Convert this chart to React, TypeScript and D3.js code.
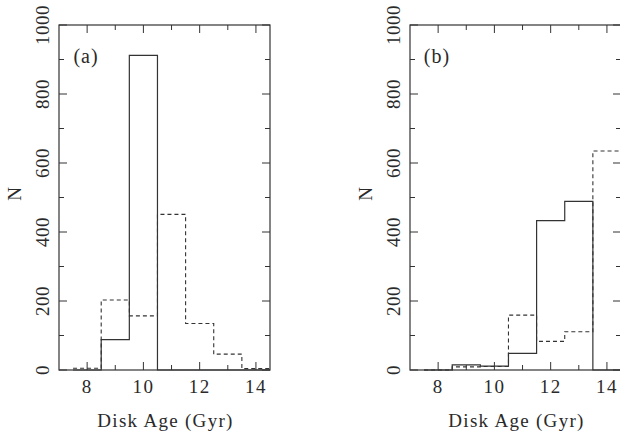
import React from 'react';
import * as d3 from 'd3';

// histogram bins (Gyr), one value per bin centre
const binCenters = [8, 9, 10, 11, 12, 13, 14];
const aSolid = [0, 88, 912, 0, 0, 0, 0];
const aDashed = [5, 203, 157, 451, 135, 46, 4];
const bSolid = [0, 15, 11, 48, 433, 489, 0];
const bDashed = [0, 9, 10, 159, 83, 111, 635];
const xTicks = [8, 10, 12, 14];
const xMinor = [9, 11, 13];
const yTicks = [0, 200, 400, 600, 800, 1000];
const yMinor = [100, 300, 500, 700, 900];

const W = 620;
const H = 436;
const ink = '#333';
const txt = '#2a2a2a';
const font = '"Liberation Serif", "DejaVu Serif", serif';

type PanelProps = {
  left: number;
  label: string;
  solid: number[];
  dashed: number[];
};

const Panel = ({ left, label, solid, dashed }: PanelProps) => {
  const x = d3.scaleLinear().domain([7, 14.5]).range([left, left + 211]);
  const y = d3.scaleLinear().domain([0, 1000]).range([370, 25]);
  const [x0, x1] = x.range();
  const [yb, yt] = y.range();

  const step = d3
    .line<[number, number]>()
    .x(d => x(d[0]))
    .y(d => y(d[1]))
    .curve(d3.curveStepAfter);

  const toPts = (vals: number[]): [number, number][] => {
    const pts: [number, number][] = binCenters.map((c, i) => [c - 0.5, vals[i]]);
    pts.push([binCenters[binCenters.length - 1] + 0.5, vals[vals.length - 1]]);
    return pts;
  };

  return (
    <g>
      <path d={step(toPts(dashed)) ?? ''} fill="none" stroke={ink} strokeWidth={1.1} strokeDasharray="4,3" />
      <path d={step(toPts(solid)) ?? ''} fill="none" stroke={ink} strokeWidth={1.2} />
      <rect x={x0} y={yt} width={x1 - x0} height={yb - yt} fill="none" stroke={ink} strokeWidth={1.2} />
      {xTicks.map(t => (
        <g key={'x' + t}>
          <line x1={x(t)} x2={x(t)} y1={yb} y2={yb - 8} stroke={ink} />
          <line x1={x(t)} x2={x(t)} y1={yt} y2={yt + 8} stroke={ink} />
          <text x={x(t)} y={393} textAnchor="middle" fontSize={19} letterSpacing={1.5} fill={txt} fontFamily={font}>
            {t}
          </text>
        </g>
      ))}
      {xMinor.map(t => (
        <g key={'xm' + t}>
          <line x1={x(t)} x2={x(t)} y1={yb} y2={yb - 5} stroke={ink} />
          <line x1={x(t)} x2={x(t)} y1={yt} y2={yt + 5} stroke={ink} />
        </g>
      ))}
      {yTicks.map(t => (
        <g key={'y' + t}>
          <line x1={x0} x2={x0 + 8} y1={y(t)} y2={y(t)} stroke={ink} />
          <line x1={x1} x2={x1 - 8} y1={y(t)} y2={y(t)} stroke={ink} />
          <text
            transform={`translate(${x0 - 10},${y(t)}) rotate(-90)`}
            textAnchor="middle"
            fontSize={19}
            letterSpacing={0.5}
            fill={txt}
            fontFamily={font}
          >
            {t}
          </text>
        </g>
      ))}
      {yMinor.map(t => (
        <g key={'ym' + t}>
          <line x1={x0} x2={x0 + 5} y1={y(t)} y2={y(t)} stroke={ink} />
          <line x1={x1} x2={x1 - 5} y1={y(t)} y2={y(t)} stroke={ink} />
        </g>
      ))}
      <text
        transform={`translate(${x0 - 38},${194}) rotate(-90)`}
        textAnchor="middle"
        fontSize={19}
        fill={txt}
        fontFamily={font}
      >
        N
      </text>
      <text x={x0 + 27} y={63} textAnchor="middle" fontSize={20} letterSpacing={1} fill={txt} fontFamily={font}>
        {label}
      </text>
      <text x={(x0 + x1) / 2 + 1} y={427} textAnchor="middle" fontSize={19} letterSpacing={1.3} fill={txt} fontFamily={font}>
        Disk Age (Gyr)
      </text>
    </g>
  );
};

export default function App() {
  return (
    <svg
      width={W}
      height={H}
      style={{ position: 'absolute', left: 0, top: 0, background: '#fff' }}
    >
      <Panel left={59} label="(a)" solid={aSolid} dashed={aDashed} />
      <Panel left={410} label="(b)" solid={bSolid} dashed={bDashed} />
    </svg>
  );
}
